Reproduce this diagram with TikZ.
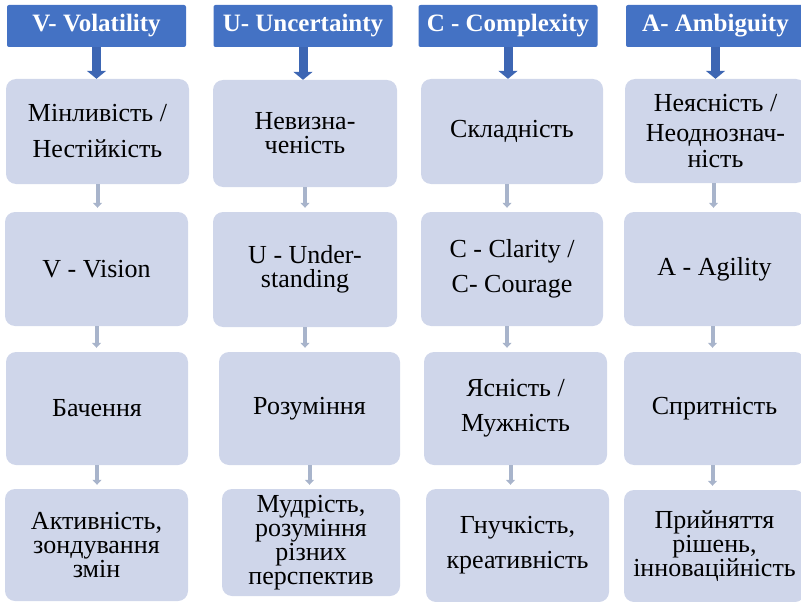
\documentclass[tikz,border=0pt]{standalone}
\usepackage{fontspec}
\setmainfont{Liberation Serif}
\usetikzlibrary{arrows.meta,positioning}

\begin{document}
\begin{tikzpicture}[x=1pt,y=-1pt]
\definecolor{head area}{HTML}{4472C4}
\definecolor{cell area}{HTML}{CFD6EA}
\definecolor{arrow blue}{HTML}{3D66B3}
\definecolor{arrow grey}{HTML}{A8B4CB}
\tikzset{
     header/.style={fill=head area, text=white, rounded corners=2pt, inner sep=0pt,
        font=\fontsize{25}{26}\selectfont\bfseries, minimum width=179pt, minimum height=42pt},
     cell/.style={fill=cell area, rounded corners=10pt, align=center, inner sep=0pt,
        font=\fontsize{26}{24}\selectfont, minimum width=183pt},
     down/.style={-{Triangle[width=19pt,length=8pt]}, line width=9pt, draw=arrow blue},
     link/.style={-{Triangle[width=9pt,length=5pt]}, line width=4pt, draw=arrow grey, shorten >=4pt}}

\clip (0,0) rectangle (801,602);

% The headers
\node (vhead) [header] at (96.5,26) {V- Volatility};
\node (uhead) [header] at (303,26) {U- Uncertainty};
\node (chead) [header] at (508,26) {C - Complexity};
\node (ahead) [header] at (715.5,26) {A- Ambiguity};

% First row
\node (v1) [cell, minimum height=105pt] at (97.5,131.5) {Мінливість /\\[12pt]Нестійкість};
\node (u1) [cell, minimum width=184pt, minimum height=107pt] at (305,133.5) {Невизна-\\ченість};
\node (c1) [cell, minimum width=182pt, minimum height=105pt] at (512,131.5) {Складність};
\node (a1) [cell, minimum width=181pt, minimum height=104pt] at (715.5,131) {Неясність /\\[6pt]Неоднознач-\\[2pt]ність};

% Second row
\node (v2) [cell, minimum height=114pt] at (96.5,269) {V - Vision};
\node (u2) [cell, minimum width=184pt, minimum height=115pt] at (305,269.5) {U - Under-\\standing};
\node (c2) [cell, minimum width=182pt, minimum height=114pt] at (512,269) {C - Clarity /\\[11pt]C- Courage};
\node (a2) [cell, minimum width=181pt, minimum height=114pt] at (714.5,269) {A - Agility};

% Third row
\node (v3) [cell, minimum width=182pt, minimum height=113pt] at (97,408.5) {Бачення};
\node (u3) [cell, minimum width=181pt, minimum height=113pt] at (309.5,408.5) {Розуміння};
\node (c3) [cell, minimum height=113pt] at (515.5,408.5) {Ясність /\\[11pt]Мужність};
\node (a3) [cell, minimum width=181pt, minimum height=113pt] at (714.5,408.5) {Спритність};

% Fourth row
\node (v4) [cell, minimum height=112pt] at (96.5,545) {Активність,\\зондування\\змін};
\node (u4) [cell, minimum width=178pt, minimum height=107pt] at (311,542.5) {Мудрість,\\розуміння\\різних\\перспектив};
\node (c4) [cell, minimum height=113pt] at (517.5,545.5) {Гнучкість,\\[11pt]креативність};
\node (a4) [cell, minimum width=181pt, minimum height=112pt] at (714.5,546) {Прийняття\\рішень,\\інноваційність};

% The arrows
\foreach \col in {v,u,c,a}
  \draw [down] (\col head.south) -- (\col head.south |- \col1.north);
\foreach \col/\dx in {v/0,u/0,c/-5,a/-2}
  \foreach \i/\j in {1/2,2/3,3/4}
    \draw [link] ([xshift=\dx pt]\col\i.south) -- ([xshift=\dx pt]\col\i.south |- \col\j.north);
\end{tikzpicture}
\end{document}
